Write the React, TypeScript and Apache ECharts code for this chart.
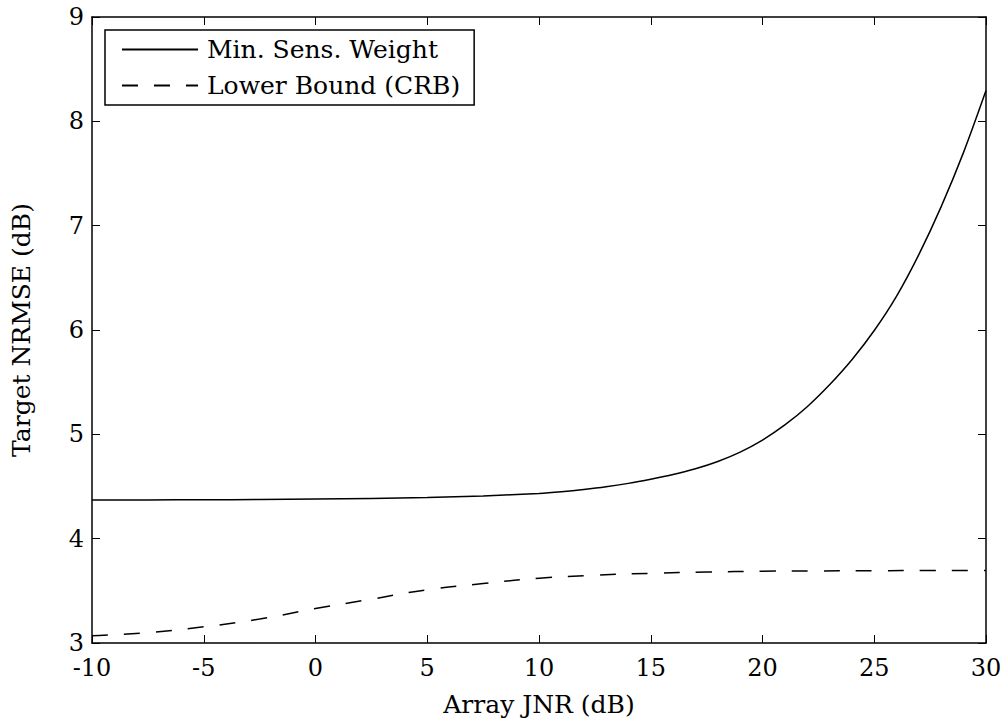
import React, { useEffect, useRef } from "react";
import * as echarts from "echarts";

const jnrSolid = [-10, -7.5, -5, -2.5, 0, 2.5, 5, 7.5, 10, 11, 12, 13, 14, 15, 16, 17, 18, 19, 20, 21, 22, 23, 24, 25, 26, 27, 28, 29, 30];
const minSensWeight = [4.37, 4.371, 4.373, 4.375, 4.379, 4.385, 4.394, 4.409, 4.434, 4.45, 4.471, 4.497, 4.53, 4.57, 4.615, 4.67, 4.74, 4.83, 4.945, 5.09, 5.265, 5.475, 5.715, 5.995, 6.325, 6.725, 7.185, 7.705, 8.295];
const jnrDashed = [-10, -7.5, -5, -2.5, 0, 2.5, 5, 7.5, 10, 12.5, 15, 17.5, 20, 22.5, 25, 27.5, 30];
const lowerBound = [3.07, 3.1, 3.155, 3.23, 3.33, 3.42, 3.51, 3.57, 3.62, 3.65, 3.668, 3.68, 3.688, 3.691, 3.693, 3.694, 3.694];
const seriesNames = ["Min. Sens. Weight", "Lower Bound (CRB)"];
const xLabel = "Array JNR (dB)";
const yLabel = "Target NRMSE (dB)";

const FONT = "DejaVu Serif";

export default function App() {
  const ref = useRef<HTMLDivElement>(null);
  useEffect(() => {
    if (!ref.current) return;
    const chart = echarts.init(ref.current, undefined, { renderer: "svg" });
    const axisLine = { show: true, onZero: false, lineStyle: { color: "#000", width: 1.5 } };
    const tick = { show: true, inside: true, length: 8, lineStyle: { color: "#000", width: 1 } };
    chart.setOption({
      animation: false,
      backgroundColor: "#fff",
      grid: { left: 92, right: 22, top: 17, bottom: 82, containLabel: false },
      legend: {
        left: 105,
        top: 30,
        orient: "vertical",
        itemWidth: 76,
        itemHeight: 14,
        itemGap: 11,
        padding: [7, 14, 7, 16],
        borderColor: "#000",
        borderWidth: 1.5,
        backgroundColor: "#fff",
        itemStyle: { opacity: 0 },
        textStyle: { fontFamily: FONT, fontSize: 25, color: "#000", padding: [0, 0, 0, 4] },
        data: seriesNames,
      },
      xAxis: [
        {
          type: "value",
          min: -10,
          max: 30,
          interval: 5,
          name: xLabel,
          nameLocation: "middle",
          nameGap: 49,
          nameTextStyle: { fontFamily: FONT, fontSize: 25, color: "#000" },
          axisLine,
          axisTick: tick,
          splitLine: { show: false },
          axisLabel: { fontFamily: FONT, fontSize: 24, color: "#000", margin: 13 },
        },
        {
          type: "value",
          position: "top",
          min: -10,
          max: 30,
          interval: 5,
          axisLine,
          axisTick: tick,
          splitLine: { show: false },
          axisLabel: { show: false },
        },
      ],
      yAxis: [
        {
          type: "value",
          min: 3,
          max: 9,
          interval: 1,
          name: yLabel,
          nameLocation: "middle",
          nameGap: 58,
          nameTextStyle: { fontFamily: FONT, fontSize: 25, color: "#000" },
          axisLine,
          axisTick: tick,
          splitLine: { show: false },
          axisLabel: { fontFamily: FONT, fontSize: 24, color: "#000", margin: 8 },
        },
        {
          type: "value",
          position: "right",
          min: 3,
          max: 9,
          interval: 1,
          axisLine,
          axisTick: tick,
          splitLine: { show: false },
          axisLabel: { show: false },
        },
      ],
      series: [
        {
          name: seriesNames[0],
          type: "line",
          smooth: 0.3,
          showSymbol: false,
          symbol: "none",
          data: jnrSolid.map((x, i) => [x, minSensWeight[i]]),
          lineStyle: { color: "#000", width: 1.5, type: "solid" },
          itemStyle: { color: "#000" },
        },
        {
          name: seriesNames[1],
          type: "line",
          smooth: true,
          showSymbol: false,
          symbol: "none",
          data: jnrDashed.map((x, i) => [x, lowerBound[i]]),
          lineStyle: { color: "#000", width: 1.5, type: [16, 16] },
          itemStyle: { color: "#000" },
        },
      ],
    });
    return () => chart.dispose();
  }, []);
  return <div ref={ref} style={{ width: 1008, height: 725, position: "absolute", left: 0, top: 0 }} />;
}
